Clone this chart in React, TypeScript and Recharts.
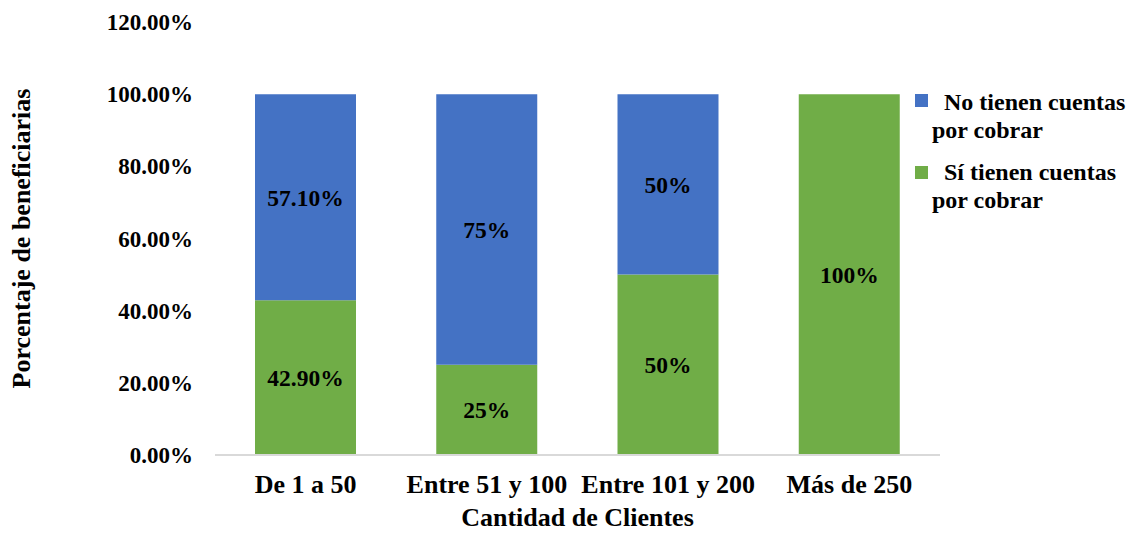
import React from "react";
import { BarChart, Bar, XAxis, YAxis, LabelList, Label } from "recharts";

const categories = ["De 1 a 50", "Entre 51 y 100", "Entre 101 y 200", "Más de 250"];
const siValues = [42.9, 25, 50, 100];
const noValues = [57.1, 75, 50, 0];
const siLabels = ["42.90%", "25%", "50%", "100%"];
const noLabels = ["57.10%", "75%", "50%", ""];
const yTicks = [0, 20, 40, 60, 80, 100, 120];

const series = [
  { key: "no", name: "No tienen cuentas por cobrar", color: "#4472C4" },
  { key: "si", name: "Sí tienen cuentas por cobrar", color: "#70AD47" },
];

const data = categories.map((c, i) => ({
  category: c,
  si: siValues[i],
  no: noValues[i],
  siLabel: siLabels[i],
  noLabel: noLabels[i],
}));

const FONT = "'Times New Roman', 'Liberation Serif', serif";

function YTitle(props: any) {
  const vb = props.viewBox || { y: 22, height: 433 };
  const cy = vb.y + vb.height / 2;
  return (
    <text
      x={30}
      y={cy}
      transform={`rotate(-90, 30, ${cy})`}
      textAnchor="middle"
      fontFamily={FONT}
      fontSize={26}
      fontWeight="bold"
      fill="#000"
    >
      Porcentaje de beneficiarias
    </text>
  );
}

export default function App() {
  return (
    <div
      style={{
        position: "absolute",
        left: 0,
        top: 0,
        width: 1128,
        height: 533,
        background: "#fff",
        fontFamily: FONT,
      }}
    >
      <BarChart
        width={1128}
        height={533}
        data={data}
        margin={{ top: 22, right: 188, bottom: 0, left: 0 }}
      >
        <XAxis
          dataKey="category"
          height={78}
          axisLine={{ stroke: "#d9d9d9", strokeWidth: 2 }}
          tickLine={false}
          tickSize={0}
          tickMargin={20}
          interval={0}
          tick={{ fontSize: 26, fontWeight: "bold", fill: "#000", fontFamily: FONT }}
        >
          <Label
            value="Cantidad de Clientes"
            position="insideBottom"
            offset={7}
            fontSize={26}
            fontWeight="bold"
            fill="#000"
            fontFamily={FONT}
          />
        </XAxis>
        <YAxis
          width={215}
          domain={[0, 120]}
          ticks={yTicks}
          axisLine={false}
          tickLine={false}
          tickSize={0}
          tickMargin={22}
          tickFormatter={(v: number) => `${v.toFixed(2)}%`}
          tick={{ fontSize: 23, fontWeight: "bold", fill: "#000", fontFamily: FONT }}
        >
          <Label content={<YTitle />} />
        </YAxis>
        <Bar dataKey="si" stackId="a" fill="#70AD47" barSize={101} isAnimationActive={false}>
          <LabelList
            dataKey="siLabel"
            position="center"
            fill="#000"
            fontSize={23.5}
            fontWeight="bold"
            fontFamily={FONT}
          />
        </Bar>
        <Bar dataKey="no" stackId="a" fill="#4472C4" barSize={101} isAnimationActive={false}>
          <LabelList
            dataKey="noLabel"
            position="center"
            fill="#000"
            fontSize={23.5}
            fontWeight="bold"
            fontFamily={FONT}
          />
        </Bar>
      </BarChart>
      {series.map((s, i) => (
        <React.Fragment key={s.key}>
          <div
            style={{
              position: "absolute",
              left: 915,
              top: 94 + i * 72,
              width: 13,
              height: 13,
              background: s.color,
            }}
          />
          <div
            style={{
              position: "absolute",
              left: 932,
              top: 88 + i * 70,
              width: 196,
              fontSize: 24,
              lineHeight: "28px",
              fontWeight: "bold",
              textIndent: 12,
              color: "#000",
            }}
          >
            {s.name}
          </div>
        </React.Fragment>
      ))}
    </div>
  );
}
